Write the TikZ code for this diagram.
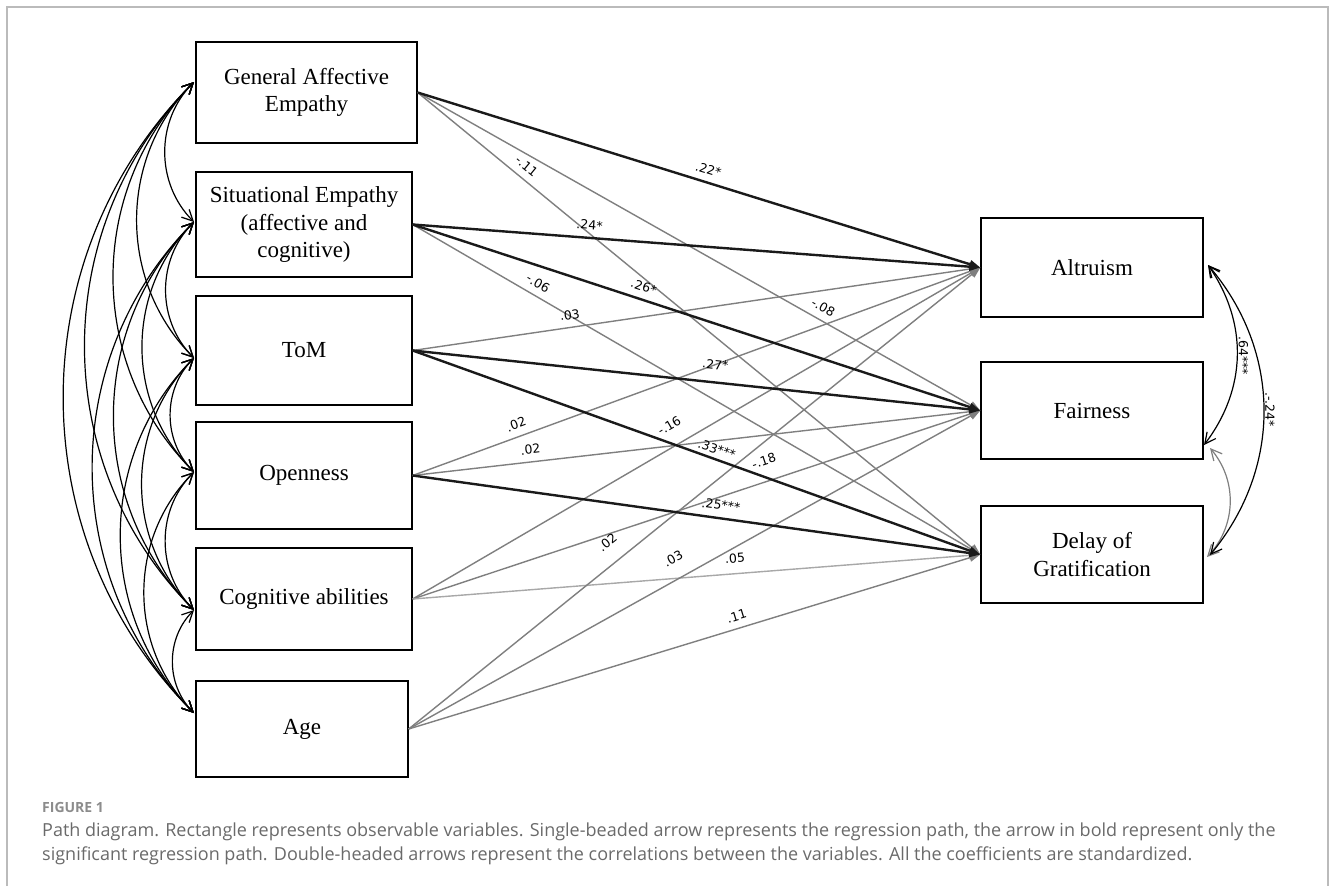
\documentclass[tikz,border=0pt]{standalone}
\usepackage{fontspec}
\setmainfont{Liberation Serif}
\newfontfamily\lblfont{DejaVu Sans}
\newfontfamily\capfont{Open Sans}
\usetikzlibrary{arrows.meta,calc}
\definecolor{regc}{HTML}{7F7F7F}
\definecolor{lightc}{HTML}{A8A8A8}
\definecolor{sigc}{HTML}{1A1A1A}
\definecolor{framec}{HTML}{BBBBBB}
\definecolor{capc}{HTML}{6A6A6A}
\definecolor{figc}{HTML}{8C8C8C}
\begin{document}
\begin{tikzpicture}[x=1pt,y=-1pt,
  box/.style={draw=black, line width=1.3pt, inner sep=0pt, font=\fontsize{23}{27.5}\selectfont, align=center},
  reg/.style={draw=regc, line width=1.4pt, -{Triangle[length=11pt,width=8pt]}},
  reglight/.style={draw=lightc, line width=1.4pt, -{Triangle[length=11pt,width=8pt]}},
  sig/.style={draw=sigc, line width=2.4pt, -{Triangle[length=11pt,width=8pt]}},
  lbl/.style={font=\lblfont\fontsize{12.5}{14}\selectfont, sloped, above=6pt, inner sep=1pt, text=black},
  cor/.style={draw=black, line width=1.2pt, {Straight Barb[length=11pt,width=11pt]}-{Straight Barb[length=11pt,width=11pt]}},
  corgray/.style={draw=regc, line width=1.2pt, {Straight Barb[length=11pt,width=11pt]}-{Straight Barb[length=11pt,width=11pt]}},
  rlbl/.style={font=\lblfont\fontsize{12.5}{14}\selectfont, rotate=-90, anchor=south, inner sep=1pt},
]
\useasboundingbox (0,0) rectangle (1333,886);
% frame
\draw[framec, line width=1.2pt] (7,886) -- (7,7) -- (1328,7) -- (1328,886);

% boxes
\node[box, minimum width=221pt, minimum height=101pt] (gae) at (306.5,92.5) {General Affective\\Empathy};
\node[box, minimum width=216pt, minimum height=105pt] (se) at (304,224.5) {Situational Empathy\\(affective and\\cognitive)};
\node[box, minimum width=216pt, minimum height=109pt] (tom) at (304,350.5) {ToM};
\node[box, minimum width=216pt, minimum height=107pt] (ope) at (304,475.5) {Openness};
\node[box, minimum width=216pt, minimum height=102pt] (cog) at (304,599) {Cognitive abilities};
\node[box, minimum width=212pt, minimum height=96pt] (age) at (302,729) {Age};
\node[box, minimum width=222pt, minimum height=99pt] (alt) at (1092,267.5) {Altruism};
\node[box, minimum width=222pt, minimum height=97pt] (fai) at (1092,410.5) {Fairness};
\node[box, minimum width=222pt, minimum height=97pt] (del) at (1092,554.5) {Delay of\\Gratification};

% regression paths (non-significant)
\draw[reg] (gae.east) -- node[lbl, pos=0.18] {-.11} (del.west);
\draw[reg] (gae.east) -- node[lbl, pos=0.71] {-.08} (fai.west);
\draw[reg] (se.east) -- node[lbl, pos=0.21] {-.06} (del.west);
\draw[reg] (tom.east) -- node[lbl, pos=0.28] {.03} (alt.west);
\draw[reg] (ope.east) -- node[lbl, pos=0.19] {.02} (alt.west);
\draw[reg] (ope.east) -- node[lbl, pos=0.21] {.02} (fai.west);
\draw[reg] (cog.east) -- node[lbl, pos=0.47, above=8pt] {-.16} (alt.west);
\draw[reg] (cog.east) -- node[lbl, pos=0.63, above=8pt] {-.18} (fai.west);
\draw[reglight] (cog.east) -- node[lbl, pos=0.57, above=3pt] {.05} (del.west);
\draw[reg] (age.east) -- node[lbl, pos=0.37, above=8pt] {.02} (alt.west);
\draw[reg] (age.east) -- node[lbl, pos=0.48, above=8pt] {.03} (fai.west);
\draw[reg] (age.east) -- node[lbl, pos=0.58] {.11} (del.west);

% significant paths
\draw[sig] (gae.east) -- node[lbl, pos=0.51] {.22*} (alt.west);
\draw[sig] (se.east) -- node[lbl, pos=0.31] {.24*} (alt.west);
\draw[sig] (se.east) -- node[lbl, pos=0.40] {.26*} (fai.west);
\draw[sig] (tom.east) -- node[lbl, pos=0.53, above=5pt] {.27*} (fai.west);
\draw[sig] (tom.east) -- node[lbl, pos=0.53, above=-3pt] {.33***} (del.west);
\draw[sig] (ope.east) -- node[lbl, pos=0.54, above=0pt] {.25***} (del.west);

% left correlation endpoints
\coordinate (cg) at (194,82);
\coordinate (cs) at (194,222);
\coordinate (ct) at (194,358);
\coordinate (co) at (194,472);
\coordinate (cc) at (194,610);
\coordinate (ca) at (194,713);

\foreach \a/\b in {cg/cs,cg/ct,cg/co,cg/cc,cg/ca,cs/ct,cs/co,cs/cc,cs/ca,ct/co,ct/cc,ct/ca,co/cc,co/ca,cc/ca}
  \draw[cor] (\a) to[bend right=45] (\b);

% right correlations
\coordinate (ra1) at (1208,265);
\coordinate (rf1) at (1204,445);
\coordinate (rf2) at (1210,448);
\coordinate (rd1) at (1210,555);
\coordinate (rd2) at (1207,557);
\draw[corgray] (rf2) to[bend left=42] (rd2);
\draw[cor] (ra1) to[bend left=36] node[rlbl, pos=0.5] {.64***} (rf1);
\draw[cor] (ra1) to[bend left=40] node[rlbl, pos=0.5] {.-.24*} (rd1);

% caption
\node[anchor=base west, inner sep=0pt, font=\capfont\bfseries\fontsize{14}{16}\selectfont, text=figc] (fig) at (42,812) {FIGURE 1};
\node[anchor=base west, inner sep=0pt, font=\capfont\fontsize{18}{24}\selectfont, text=capc] (cap1) at (42,836) {Path diagram. Rectangle represents observable variables. Single-beaded arrow represents the regression path, the arrow in bold represent only the};
\node[anchor=base west, inner sep=0pt, font=\capfont\fontsize{18}{24}\selectfont, text=capc] (cap2) at (42,860) {significant regression path. Double-headed arrows represent the correlations between the variables. All the coefficients are standardized.};
\end{tikzpicture}
\end{document}
